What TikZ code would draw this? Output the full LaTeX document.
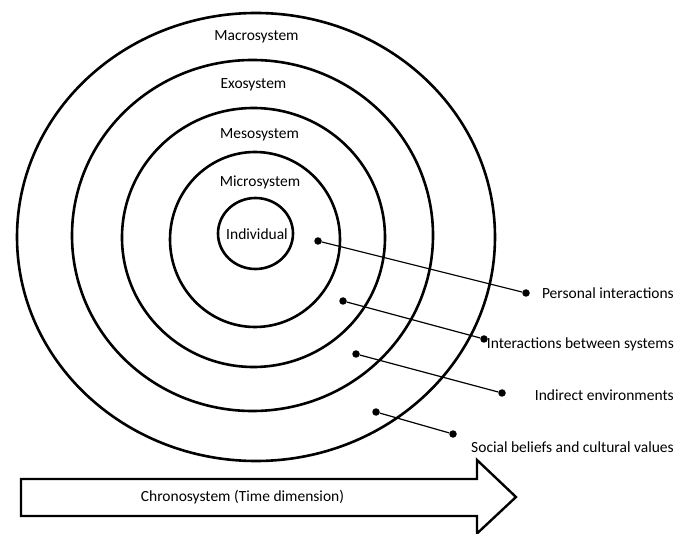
\documentclass[tikz,border=0pt]{standalone}
\usepackage{fontspec}
\setmainfont{Carlito}
\begin{document}
\begin{tikzpicture}[x=1pt,y=-1pt,
  ring/.style={line width=2.6pt},
  lead/.style={line width=1.2pt},
  dot/.style={circle,fill,inner sep=0pt,minimum size=7.5pt},
  lab/.style={font=\fontsize{15.5}{18}\selectfont, inner sep=0pt}]
\useasboundingbox (0,0) rectangle (688,534);
% rings
\draw[ring] (256,237) ellipse [x radius=239, y radius=224];
\draw[ring] (252.5,235.5) ellipse [x radius=180.5, y radius=175.5];
\draw[ring] (253.5,237.5) ellipse [x radius=131.5, y radius=129.5];
\draw[ring] (255,239.5) ellipse [x radius=85, y radius=87.5];
\draw[ring] (255.5,233.5) ellipse [x radius=37.5, y radius=35.5];
% ring labels
\node[lab] (macro) at (256.5,37) {Macrosystem};
\node[lab] (exo) at (253.5,85) {Exosystem};
\node[lab] (meso) at (259.5,135) {Mesosystem};
\node[lab] (micro) at (260,182) {Microsystem};
\node[lab] (indiv) at (257,234) {Individual};
% leaders
\node[dot] (d1) at (318,241) {};
\node[dot] (e1) at (526,293) {};
\node[dot] (d2) at (343,301) {};
\node[dot] (e2) at (484,339) {};
\node[dot] (d3) at (356,354) {};
\node[dot] (e3) at (502,393) {};
\node[dot] (d4) at (376,412) {};
\node[dot] (e4) at (453,434) {};
\draw[lead] (d1) -- (e1);
\draw[lead] (d2) -- (e2);
\draw[lead] (d3) -- (e3);
\draw[lead] (d4) -- (e4);
\node[lab,anchor=east] (l1) at (674,293) {Personal interactions};
\node[lab,anchor=east] (l2) at (674,344) {Interactions between systems};
\node[lab,anchor=east] (l3) at (674,395) {Indirect environments};
\node[lab,anchor=east] (l4) at (674,447) {Social beliefs and cultural values};
% chronosystem arrow
\draw[line width=2.4pt, line join=miter] (21,479) -- (477,479) -- (477,460) -- (516,497) -- (477,533.5) -- (477,516) -- (21,516) -- cycle;
\node[lab] (chrono) at (242.5,497) {Chronosystem (Time dimension)};
\end{tikzpicture}
\end{document}
